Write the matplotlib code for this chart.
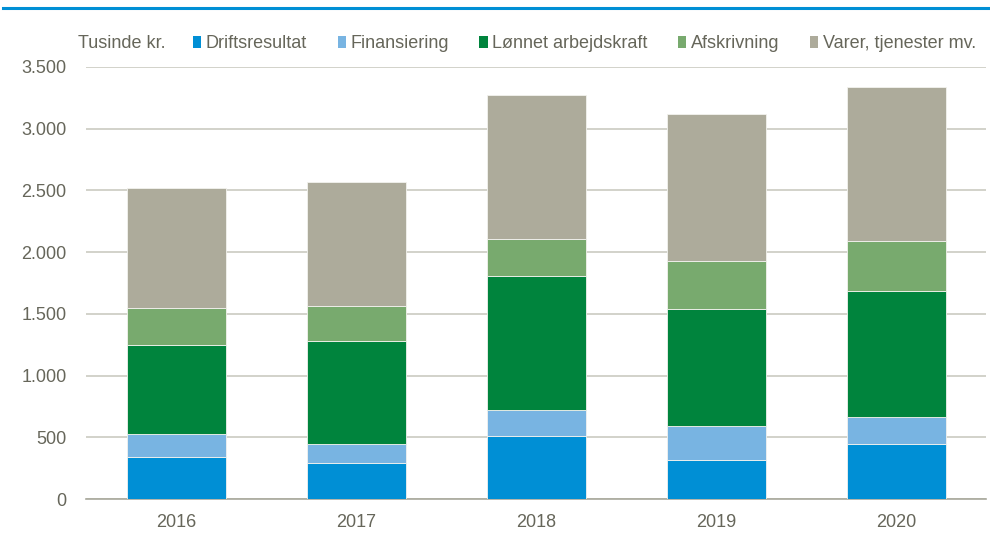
import matplotlib.pyplot as plt
from matplotlib.patches import Patch
from matplotlib.lines import Line2D
import numpy as np

plt.rcParams['font.family'] = ['Liberation Sans', 'DejaVu Sans']

years = ['2016', '2017', '2018', '2019', '2020']
driftsresultat = [338, 289, 510, 313, 448]
finansiering = [186, 157, 211, 276, 214]
lonnet = [726, 831, 1088, 953, 1026]
afskrivning = [295, 289, 295, 384, 402]
varer = [977, 1005, 1167, 1196, 1246]

series = [driftsresultat, finansiering, lonnet, afskrivning, varer]
labels = ['Driftsresultat', 'Finansiering', 'Lønnet arbejdskraft', 'Afskrivning', 'Varer, tjenester mv.']
colors = ['#008fd5', '#78b4e2', '#00843d', '#78aa6e', '#adab9b']
txt = '#66665a'

fig = plt.figure(figsize=(9.9, 5.41), dpi=100)
ax = fig.add_axes([86/990, 1-499/541, 900/990, (499-67)/541])

x = np.arange(len(years))
bottom = np.zeros(len(years))
for vals, lab, col in zip(series, labels, colors):
    ax.bar(x, vals, 0.55, bottom=bottom, color=col, label=lab,
           edgecolor='#f2f2ee', linewidth=0.6, zorder=3)
    bottom += np.array(vals)

ax.set_xlim(-0.5, 4.5)
ax.set_ylim(0, 3500)
ax.set_yticks(range(0, 3501, 500))
ax.set_yticklabels(['0', '500', '1.000', '1.500', '2.000', '2.500', '3.000', '3.500'])
ax.set_xticks(x)
ax.set_xticklabels(years)
ax.grid(axis='y', color='#cfcfc6', linewidth=1.3, zorder=0)
for s in ['top', 'right', 'left']:
    ax.spines[s].set_visible(False)
ax.spines['bottom'].set_color('#a8a89c')
ax.spines['bottom'].set_linewidth(1.2)
ax.tick_params(axis='both', length=0, labelsize=13, colors=txt)
ax.tick_params(axis='y', pad=14)
ax.tick_params(axis='x', pad=11)

# top blue rule
fig.add_artist(Line2D([3/990, 1], [1-8/541, 1-8/541], color='#008fd5', linewidth=2.2))

fig.text(78/990, 1-44/541, 'Tusinde kr.', fontsize=13, color=txt, va='center', ha='left')

handles = [Patch(facecolor=c, edgecolor='none') for c in colors]
leg = fig.legend(handles, labels, loc='center left', bbox_to_anchor=(193/990, 1-44/541),
                 ncol=5, frameon=False, fontsize=13, handlelength=0.45, handleheight=0.6,
                 handletextpad=0.25, columnspacing=1.7, borderpad=0, borderaxespad=0)
for t in leg.get_texts():
    t.set_color(txt)

plt.savefig('out.png', dpi=100)
